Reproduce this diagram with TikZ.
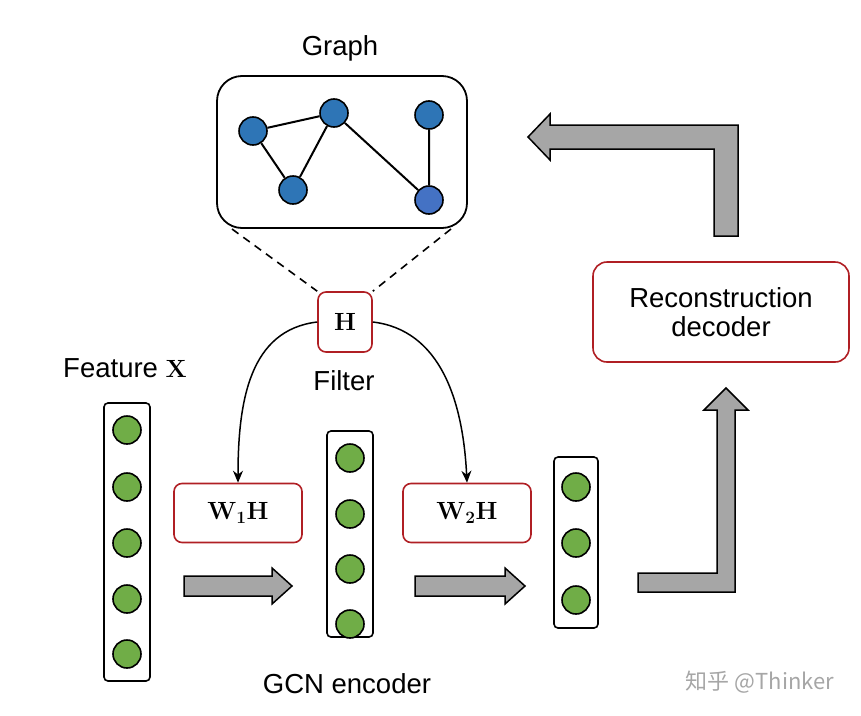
\documentclass[tikz,border=0pt]{standalone}
\usepackage[no-math]{fontspec}
\setmainfont{Liberation Sans}
\newfontfamily\cjk{Noto Sans CJK SC}
\usetikzlibrary{arrows.meta,positioning}
\definecolor{gblue}{HTML}{2E75B6}
\definecolor{gblue2}{HTML}{4472C4}
\definecolor{fgreen}{HTML}{70AD47}
\definecolor{boxred}{HTML}{B01F24}
\definecolor{arrgray}{HTML}{A6A6A6}
\tikzset{
	vertex/.style={circle, draw=black, line width=1.6pt, fill=gblue, minimum size=28pt, inner sep=0pt},
	feat/.style={circle, draw=black, line width=1.6pt, fill=fgreen, minimum size=28pt, inner sep=0pt},
	column/.style={draw=black, line width=1.6pt, rounded corners=4pt},
	redbox/.style={draw=boxred, line width=1.6pt, rounded corners=8pt},
	block/.style={draw=black, line width=1.5pt, fill=arrgray},
	lbl/.style={font=\fontsize{27.5}{31}\selectfont}
}
\begin{document}
\begin{tikzpicture}[x=1pt, y=-1pt]
	\useasboundingbox (0,0) rectangle (861,715);

	% Graph panel
	\draw[line width=1.8pt, rounded corners=25pt] (217,76) rectangle (467,228);
	\node[lbl] (graphlbl) at (340,48) {Graph};
	\node[vertex] (va) at (253,131) {};
	\node[vertex] (vb) at (334,113) {};
	\node[vertex] (vc) at (293,190) {};
	\node[vertex] (vd) at (429,115) {};
	\node[vertex, fill=gblue2] (ve) at (429,200) {};
	\draw[line width=2pt] (va) -- (vb) (va) -- (vc) (vb) -- (vc) (vb) -- (ve) (vd) -- (ve);

	% Filter
	\node[redbox, minimum width=54pt, minimum height=60pt] (filt) at (345,322) {\fontsize{26}{30}\selectfont$\mathbf{H}$};
	\node[lbl] (filtlbl) at (344,381) {Filter};
	\coordinate (gl) at (232,229);
	\coordinate (gr) at (451,229);
	\draw[line width=1.6pt, dash pattern=on 8pt off 6pt] (gl) -- (filt.north west);
	\draw[line width=1.6pt, dash pattern=on 8pt off 6pt] (gr) -- (filt.north east);

	% Weight boxes
	\node[redbox, minimum width=128pt, minimum height=59pt] (w1) at (238,513) {\fontsize{26}{30}\selectfont$\mathbf{W_1H}$};
	\node[redbox, minimum width=128pt, minimum height=59pt] (w2) at (467,513) {\fontsize{26}{30}\selectfont$\mathbf{W_2H}$};
	\draw[-{Stealth[length=12pt,width=10pt]}, line width=1.5pt] (filt.west) .. controls (250,330) and (238,400) .. (w1.north);
	\draw[-{Stealth[length=12pt,width=10pt]}, line width=1.5pt] (filt.east) .. controls (440,330) and (463,400) .. (w2.north);

	% Feature columns
	\draw[column] (104,403) rectangle (150,681);
	\foreach \y [count=\i] in {430,487,543,599,654}
		\node[feat] (xa\i) at (127,\y) {};
	\draw[column] (327,431) rectangle (373,637);
	\foreach \y [count=\i] in {458,514,569,624}
		\node[feat] (xb\i) at (350,\y) {};
	\draw[column] (554,457) rectangle (598,628);
	\foreach \y [count=\i] in {487,543,600}
		\node[feat] (xc\i) at (576,\y) {};
	\node[lbl] (featlbl) at (125,368) {Feature $\mathbf{X}$};
	\node[lbl] (gcnlbl) at (347,684) {GCN encoder};

	% Block arrows
	\draw[block] (184,576) -- (272,576) -- (272,568) -- (292,586) -- (272,604) -- (272,596) -- (184,596) -- cycle;
	\draw[block] (415,576) -- (505,576) -- (505,568) -- (525,586) -- (505,604) -- (505,596) -- (415,596) -- cycle;
	\draw[block] (638,573) -- (717,573) -- (717,410) -- (704,410) -- (726,388) -- (748,410) -- (735,410) -- (735,592) -- (638,592) -- cycle;
	\draw[block] (714,236) -- (714,149) -- (550,149) -- (550,160) -- (528,137) -- (550,114) -- (550,125) -- (738,125) -- (738,236) -- cycle;

	% Decoder
	\node[redbox, rounded corners=14pt, minimum width=256pt, minimum height=100pt, align=center, lbl] (dec) at (721,312) {Reconstruction\\[-2pt]decoder};

	% Watermark
	\node[text=gray!70, font=\cjk\fontsize{22}{26}\selectfont] (wm) at (760,682) {知乎 @Thinker};
\end{tikzpicture}
\end{document}
